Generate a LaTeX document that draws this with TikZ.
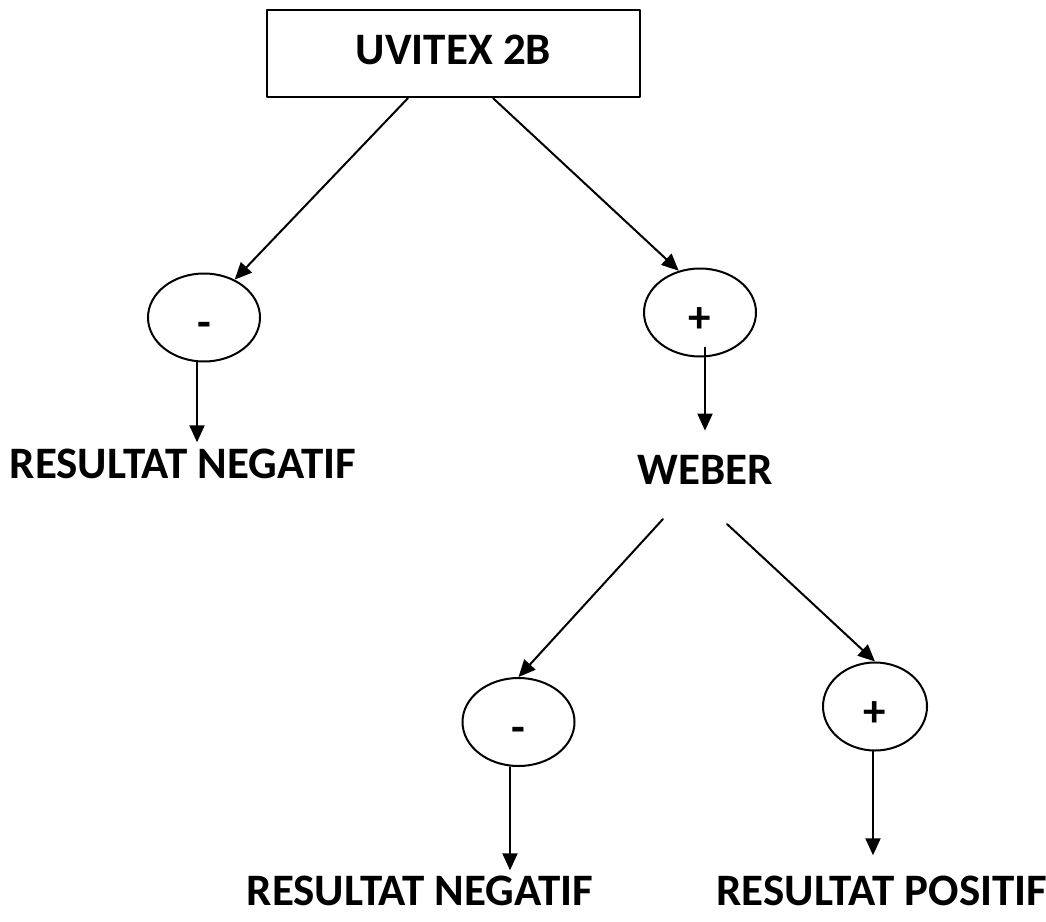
\documentclass[tikz,border=0pt]{standalone}
\usepackage{fontspec}
\setmainfont{Carlito}
\usetikzlibrary{arrows.meta,calc,positioning,shapes.geometric}
\tikzset{
  every node/.style={font=\bfseries\fontsize{45}{54}\selectfont},
  testbox/.style={draw, line width=2.2pt, minimum width=373pt, minimum height=87pt,
    text height=29pt, text depth=8pt},
  sign/.style={ellipse, draw, line width=2pt, minimum width=112pt,
    minimum height=88pt, inner sep=0pt, text height=40pt, text depth=0pt},
  result/.style={anchor=base, inner sep=0pt},
  flow/.style={line width=2pt, -{Triangle[length=17pt,width=15pt]}}
}

\begin{document}
\begin{tikzpicture}[x=1pt,y=-1pt,line cap=round,line join=round]
  \useasboundingbox (0,0) rectangle (1046,921);

  \node[testbox] (uvitex) at (453.5,53.5) {UVITEX 2B};

  \node[sign] (neg1) at (204,317.5) {-};
  \node[sign] (pos1) at (700,312.5) {+};
  \node[result] (res1) at (183,478) {RESULTAT NEGATIF};
  \node[result] (weber) at (705,484) {WEBER};

  \node[sign] (neg2) at (518.5,722) {-};
  \node[sign, minimum width=104pt] (pos2) at (875,706.5) {+};
  \node[result] (res2) at (420,905) {RESULTAT NEGATIF};
  \node[result] (res3) at (882,905) {RESULTAT POSITIF};

  % first test
  \draw[flow] ($(uvitex.south)+(-45.5,0)$) -- (neg1.51);
  \draw[flow] ($(uvitex.south)+(39.5,0)$) -- (pos1.117);
  \draw[flow] ($(neg1.south)+(-7,0)$) -- ($(res1.north)+(14,-6)$);
  \draw[flow] ($(pos1.south)+(5,-10)$) -- ($(weber.north)+(0,-24)$);

  % second test
  \draw[flow] ($(weber.base)+(-42,35)$) -- (neg2.north);
  \draw[flow] ($(weber.base)+(22,40)$) -- (pos2.north);
  \draw[flow] ($(neg2.south)+(-8.5,0)$) -- ($(res2.north)+(90,-5)$);
  \draw[flow] ($(pos2.south)+(-2,0)$) -- ($(res3.north)+(-9,-20)$);
\end{tikzpicture}
\end{document}
